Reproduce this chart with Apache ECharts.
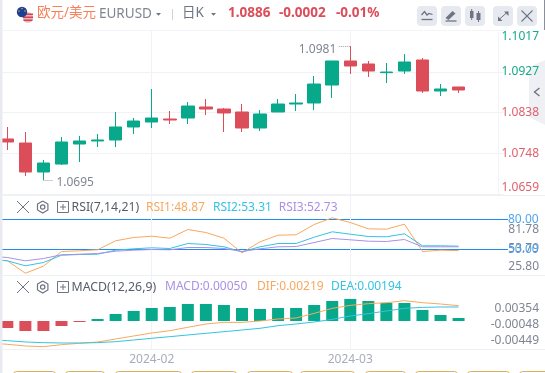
<!DOCTYPE html>
<html><head><meta charset="utf-8">
<style>html,body{margin:0;padding:0;background:#fff}#c{width:545px;height:373px}</style>
<script src="https://cdn.jsdelivr.net/npm/echarts@6/dist/echarts.min.js"></script>
</head><body><div id="c"></div>
<script>
const dates=['2024-01-19','2024-01-22','2024-01-23','2024-01-24','2024-01-25','2024-01-26','2024-01-29','2024-01-30','2024-01-31','2024-02-01','2024-02-05','2024-02-07','2024-02-09','2024-02-13','2024-02-15','2024-02-19','2024-02-21','2024-02-23','2024-02-27','2024-02-29','2024-03-01','2024-03-04','2024-03-05','2024-03-06','2024-03-07','2024-03-08','2024-03-11','2024-03-12','2024-03-13'];
const monthDates=['2024-02-01','2024-03-01'];
// [open, close, low, high]
const candles=[
['-','-','-','-'],
[1.07796,1.07730,1.07554,1.08059],
[1.07708,1.07072,1.06984,1.07949],
[1.07072,1.07269,1.06897,1.07335],
[1.07247,1.07730,1.07226,1.07839],
[1.07686,1.07752,1.07291,1.07861],
[1.07752,1.07774,1.07620,1.07905],
[1.07774,1.08059,1.07620,1.08388],
[1.08059,1.08190,1.07905,1.08256],
[1.08168,1.08256,1.08037,1.08892],
[1.08234,1.08212,1.08124,1.08409],
[1.08256,1.08519,1.08124,1.08607],
[1.08497,1.08453,1.08322,1.08673],
[1.08453,1.08366,1.07949,1.08475],
[1.08388,1.08037,1.07949,1.08563],
[1.08037,1.08344,1.07971,1.08431],
[1.08388,1.08563,1.08388,1.08673],
[1.08563,1.08585,1.08409,1.08782],
[1.08585,1.09001,1.08431,1.09177],
[1.08979,1.09506,1.08694,1.09506],
[1.09506,1.09396,1.09221,1.09835],
[1.09440,1.09286,1.09155,1.09506],
[1.09250,1.09264,1.09023,1.09462],
[1.09286,1.09484,1.09221,1.09659],
[1.09528,1.08848,1.08804,1.09571],
[1.08848,1.08892,1.08738,1.09001],
[1.08936,1.08870,1.08804,1.08936]
];
const priceTicks=[1.0659,1.0748,1.0838,1.0927,1.1017];
const lowNote='1.0695', highNote='1.0981';
const rsi1=[40.3,38.7,26.3,33.3,48,48.7,49.7,58.7,62,63.3,61.3,70,67,61.3,46.7,57.7,64.3,64.7,75,81.7,77,70.7,70.3,75.3,48,49.3,48.87];
const rsi2=[40.3,38.7,33.7,37,44.3,45,45.3,49.3,50.7,51.7,51,56,55,52.7,47.7,52.7,56,56,62.3,67.7,65.3,63,62.7,65.7,53.7,53.7,53.31];
const rsi3=[43.3,42,38.7,41,44.7,45.3,46,48.3,49.3,50,49.7,52,52,51,48,50.7,52.7,53,57,61,59.7,58.3,58,60,52.7,52.7,52.73];
const rsiLevels=[80,50];
const rsiTicks=[25.80,53.79,81.78];
const macdBars=['-',-0.00117,-0.00167,-0.00167,-0.00084,-0.00017,0.00033,0.00117,0.00167,0.00217,0.00234,0.00284,0.00284,0.00267,0.00217,0.00201,0.00217,0.00217,0.00267,0.00334,0.00368,0.00334,0.00301,0.00301,0.00184,0.00100,0.00050];
const dif=[-0.00490,-0.00515,-0.00547,-0.00560,-0.00522,-0.00496,-0.00471,-0.00414,-0.00357,-0.00300,-0.00256,-0.00192,-0.00129,-0.00098,-0.00098,-0.00072,-0.00034,-0.00015,0.00073,0.00168,0.00225,0.00257,0.00276,0.00314,0.00276,0.00251,0.00219];
const dea=[-0.00427,-0.00446,-0.00471,-0.00484,-0.00490,-0.00490,-0.00484,-0.00465,-0.00433,-0.00401,-0.00370,-0.00338,-0.00306,-0.00275,-0.00243,-0.00211,-0.00161,-0.00129,-0.00091,-0.00041,0.00023,0.00067,0.00118,0.00168,0.00187,0.00194,0.00194];
const macdTicks=[-0.00449,-0.00048,0.00354];

const RED='#dc4d5a',GREEN='#08a88a',ORANGE='#f7a860',CYAN='#35c3e0',PURPLE='#ab90e6',BLUE='#1e8cf0',GRAY='#7f8593',ICON='#6e7482',LINE='#f1f2f6';
const FONT='"Noto Sans","Noto Sans CJK SC",sans-serif';
const GL=-19.75,GW=523.45;
const chart=echarts.init(document.getElementById('c'),null,{renderer:'canvas'});

function ln(x1,y1,x2,y2,c,w,z){return {type:'line',z:z||1,silent:true,shape:{x1,y1,x2,y2},style:{stroke:c,lineWidth:w||1}};}
function pl(points,c,w){return {type:'polyline',z:3,silent:true,shape:{points},style:{stroke:c,lineWidth:w||1,fill:null}};}
function pg(points,f,z){return {type:'polygon',z:z||3,silent:true,shape:{points},style:{fill:f}};}
function rc(x,y,width,height,st,r,z){return {type:'rect',z:z||2,silent:true,shape:{x,y,width,height,r:r||0},style:st};}
function tx(text,x,y,c,size,weight,anchor){return {type:'text',z:5,silent:true,x,y,style:{text,fill:c,fontSize:size||12,fontFamily:FONT,fontWeight:weight||'normal',verticalAlign:'middle',align:anchor||'left'}};}
function rowIcons(y){
  const hx=42.7,r=6;
  return [ln(17,y-6,29,y+6,ICON,1),ln(29,y-6,17,y+6,ICON,1),
    pl([[hx,y-r],[hx+5.2,y-3],[hx+5.2,y+3],[hx,y+r],[hx-5.2,y+3],[hx-5.2,y-3],[hx,y-r]],ICON,1.2),
    {type:'circle',z:3,silent:true,shape:{cx:hx,cy:y,r:2.2},style:{stroke:ICON,fill:null,lineWidth:1.2}},
    rc(57.5,y-5.5,11,11,{stroke:ICON,fill:null,lineWidth:1},0,3),ln(60,y,66,y,ICON,1,3),ln(63,y-3,63,y+3,ICON,1,3)];
}
const graphics=[
  // panel frame
  rc(0,0,2.5,373,{fill:'#e8ebf2'},0,20),
  ln(3,30.5,498.5,30.5,'#f3f4f7',1),ln(498.5,30.5,498.5,194,'#f3f4f7',1),
  ln(3,195.5,545,195.5,'#eef0f4',1),ln(3,275.5,545,275.5,'#eef0f4',1),ln(3,349.5,545,349.5,'#eef0f4',1),
  ln(544.5,0,544.5,30,'#8b8f99',1),
  // flags
  {type:'circle',z:3,silent:true,shape:{cx:28,cy:17.5,r:5.2},style:{fill:'#e8b7bd'}},
  rc(23,13.5,10,1.5,{fill:'#d2434f'},0,3),rc(23,16.5,10,1.5,{fill:'#d2434f'},0,3),rc(23.5,19.5,9,1.5,{fill:'#d2434f'},0,3),
  {type:'circle',z:4,silent:true,shape:{cx:22,cy:12,r:5.2},style:{fill:'#1f3f94'}},
  {type:'circle',z:4,silent:true,shape:{cx:22,cy:8.5,r:0.7},style:{fill:'#e8c84a'}},
  {type:'circle',z:4,silent:true,shape:{cx:25,cy:11,r:0.7},style:{fill:'#e8c84a'}},
  {type:'circle',z:4,silent:true,shape:{cx:19,cy:11,r:0.7},style:{fill:'#e8c84a'}},
  // header
  tx('欧元/美元',37,13.5,'#f5805c',13.5),
  tx('EURUSD',99,14.5,GRAY,13.5),
  pg([[156,13],[161,13],[158.5,15.8]],ICON),
  ln(172.5,9,172.5,20,'#cfd3da',1),
  tx('日K',182,13.5,ICON,13.5),
  pg([[211,13],[216,13],[213.5,15.8]],ICON),
  tx('1.0886',228,13.5,RED,13.5,'bold'),
  tx('-0.0002',279,13.5,RED,13.5,'bold'),
  tx('-0.01%',336,13.5,RED,13.5,'bold'),
  // toolbar
  rc(417,6,20,20,{fill:'#e7e9f0'},4),rc(441,6,20,20,{fill:'#e7e9f0'},4),rc(465,6,20,20,{fill:'#e7e9f0'},4),rc(493,6,20,20,{fill:'#e7e9f0'},4),rc(517,6,20,20,{fill:'#e7e9f0'},4),
  pl([[421.5,15],[424.5,11.5],[427,15],[429,13.5],[432.5,14.5]],ICON,1.3),ln(421.5,19.5,432.5,19.5,ICON,1.3,3),
  pg([[445.5,18],[452.5,11],[455.5,13.5],[448.5,20]],ICON),ln(445.5,21,456.5,21,ICON,1.3,3),
  rc(470,11,3.5,7,{fill:ICON},0,3),ln(471.7,9,471.7,20,ICON,1,3),rc(476.5,13,4,7,{fill:ICON},0,3),ln(478.5,11,478.5,22,ICON,1,3),
  ln(498.5,20,507.5,12,ICON,1,3),pg([[504,11.5],[508.5,11.5],[508.5,16]],ICON),pg([[498,16.5],[498,21],[502.5,21]],ICON),
  ln(521.5,10.5,532.5,21.5,ICON,1.1,3),ln(532.5,10.5,521.5,21.5,ICON,1.1,3),
  // side tab
  pg([[545,60],[529,67],[529,117],[545,125]],'#eef0f3',-1),
  pl([[539.5,88],[534.5,92],[539.5,96]],ICON,1.4),
  // indicator rows
  ...rowIcons(207),
  tx('RSI(7,14,21)',71.5,207.3,'#555c6a',12.3),
  tx('RSI1:48.87',146,207.3,ORANGE,12),tx('RSI2:53.31',213,207.3,CYAN,12),tx('RSI3:52.73',278.7,207.3,PURPLE,12),
  ...rowIcons(287),
  tx('MACD(12,26,9)',71.5,287,'#555c6a',12.3),
  tx('MACD:0.00050',165,287,PURPLE,12),tx('DIF:0.00219',257,287,ORANGE,12),tx('DEA:0.00194',331,287,CYAN,12),
  // bottom buttons
  ...[[13,55],[65,104],[115,181],[191,236],[247,292],[300,354],[365,405],[415,457],[467,509],[519,560]].map(b=>rc(b[0]+.5,371.5,b[1]-b[0],10,{fill:'#fff',stroke:'#d9b062',lineWidth:1},3))
];

const isMonth=i=>monthDates.includes(dates[i]);
function xAxis(g,labels){return {type:'category',gridIndex:g,data:dates,boundaryGap:true,
  axisLine:{show:false},
  axisTick:{show:false,alignWithLabel:true,interval:(i)=>isMonth(i)},
  axisLabel:{show:labels,interval:(i)=>isMonth(i),formatter:v=>v.slice(0,7),color:'#a9adb9',fontSize:12,fontFamily:FONT,margin:3.5,lineHeight:14,hideOverlap:false},
  splitLine:{show:true,alignWithLabel:true,interval:(i)=>isMonth(i),lineStyle:{color:LINE,width:1}}};}
function labelY(g,min,max,ticks,fmt,color,extra,labelExtra){const y=Object.assign({type:'value',gridIndex:g,position:'right',min,max,scale:true,
  axisLine:{show:false},axisTick:{show:false,customValues:ticks},
  axisLabel:Object.assign({show:true,customValues:ticks,formatter:fmt,color,fontSize:12,fontFamily:FONT,align:'right',margin:35.3,showMinLabel:true,showMaxLabel:true,hideOverlap:false},labelExtra||{}),
  splitLine:{show:false}},extra||{});return y;}
function hiddenY(g,min,max){return {type:'value',gridIndex:g,min,max,scale:true,show:false,splitLine:{show:false}};}
function lineS(data,color,x,y){return {type:'line',data,xAxisIndex:x,yAxisIndex:y,symbol:'none',showSymbol:false,smooth:false,lineStyle:{color,width:1},itemStyle:{color},z:4};}

const lowIdx=3,highIdx=20;
const rsiMain=lineS(rsi1,ORANGE,1,1);
// level lines are the axis split lines; the mark line only carries the short run to the label
const blueStyle={color:BLUE,width:1,type:'solid',opacity:1};
rsiMain.markLine={silent:true,symbol:'none',animation:false,lineStyle:blueStyle,
  label:{show:true,position:'end',distance:0,formatter:'{b}',color:'#4ea5ee',fontSize:12,fontFamily:FONT},
  data:rsiLevels.map(l=>[{x:503,yAxis:l,name:l.toFixed(2),lineStyle:blueStyle},{x:508,yAxis:l}])};

chart.setOption({
  animation:false,backgroundColor:'#fff',
  grid:[
    {left:GL,width:GW,top:30.7,height:163.3,outerBoundsMode:'none'},
    {left:GL,width:GW,top:195.5,height:79.5,outerBoundsMode:'none'},
    {left:GL,width:GW,top:275,height:74.3,outerBoundsMode:'none'}
  ],
  xAxis:[xAxis(0,false),xAxis(1,false),xAxis(2,true)],
  yAxis:[
    labelY(0,1.0659,1.1017,priceTicks,v=>v.toFixed(4),v=>v>1.0886?'#16a98d':'#e0606d',{
      splitLine:{show:true,lineStyle:{color:LINE,width:1}}},{verticalAlignMinLabel:'bottom',verticalAlignMaxLabel:'top'}),
    {type:'value',gridIndex:1,position:'left',min:24.5,max:104,scale:true,axisLine:{show:false},
      axisTick:{show:false,customValues:rsiLevels},
      axisLabel:{show:false,customValues:rsiLevels},
      splitLine:{show:true,lineStyle:{color:BLUE,width:1,type:'solid'}}},
    labelY(1,13.7,134,rsiTicks,v=>v.toFixed(2),GRAY),
    hiddenY(2,-0.00473,0.00768),
    hiddenY(2,-0.00610,0.00802),
    labelY(2,-0.00665,0.012,macdTicks,v=>v.toFixed(5),GRAY)
  ],
  series:[
    {type:'candlestick',data:candles,xAxisIndex:0,yAxisIndex:0,barWidth:13,
      itemStyle:{color:GREEN,color0:RED,borderColor:GREEN,borderColor0:RED,borderWidth:1},
      markPoint:{silent:true,symbol:'circle',symbolSize:0,animation:false,
        label:{show:true,color:GRAY,fontSize:12,fontFamily:FONT,formatter:'{b}'},
        data:[
          {name:lowNote,coord:[lowIdx,candles[lowIdx][2]],label:{position:'right',offset:[8,2.5]}},
          {name:highNote,coord:[highIdx,candles[highIdx][3]],label:{position:'left',offset:[-9,3.5]}}
        ]},
      markLine:{silent:true,symbol:'none',animation:false,label:{show:false},lineStyle:{color:'#9aa0ac',width:1,type:'dotted'},
        data:[
          [{xAxis:lowIdx,yAxis:candles[lowIdx][2]},{x:53,yAxis:candles[lowIdx][2]}],
          [{xAxis:highIdx,yAxis:candles[highIdx][3]},{x:338,yAxis:candles[highIdx][3]}]
        ]}
    },
    rsiMain,
    lineS(rsi2,CYAN,1,1),
    lineS(rsi3,PURPLE,1,1),
    {type:'bar',data:macdBars,xAxisIndex:2,yAxisIndex:3,barWidth:12,
      itemStyle:{color:p=>p.value<0?RED:GREEN}},
    lineS(dif,ORANGE,2,4),
    lineS(dea,CYAN,2,4)
  ],
  graphic:{elements:graphics}
});
</script></body></html>
